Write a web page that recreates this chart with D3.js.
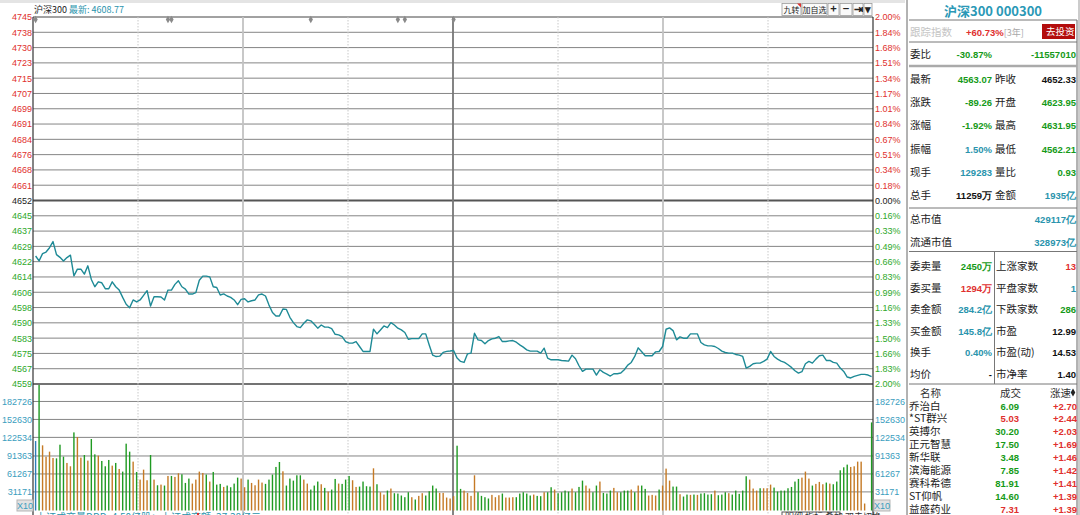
<!DOCTYPE html>
<html lang="zh">
<head>
<meta charset="UTF-8" />
<title>沪深300 分时</title>
<script src="https://d3js.org/d3.v7.min.js"></script>
<style>
  body { margin: 0; background: #fff; overflow: hidden; }
  svg { display: block; font-family: "Liberation Sans", Arial, sans-serif; }
  .cn { font-family: "Noto Sans CJK SC", sans-serif; }
  .num { font-family: "Liberation Sans", Arial, sans-serif; font-weight: bold; }
</style>
</head>
<body>
<svg id="chart" width="1080" height="515"></svg>
<script>
// ---- data ----
const prevClose = 4652.33;
const lastShown = "4608.77";

const priceLabels = ["4745","4738","4730","4723","4715","4707","4699","4691","4684","4676","4668","4661","4652",
  "4645","4637","4629","4622","4614","4606","4598","4590","4583","4575","4567","4559"];
const pctLabels = ["2.00%","1.84%","1.68%","1.51%","1.34%","1.17%","1.01%","0.84%","0.67%","0.51%","0.34%","0.18%","0.00%",
  "0.16%","0.33%","0.49%","0.66%","0.83%","0.99%","1.16%","1.33%","1.50%","1.66%","1.83%","2.00%"];
const volTicks = [31171, 61267, 91363, 122534, 152630, 182726];
const timeGrid = [0, 30, 60, 90, 120, 150, 180, 210, 240];
const markerMinutes = [0, 38, 39, 79, 104, 106, 120];

// one point per minute, 9:30 .. 11:30 then 13:01 .. 15:00
const prices = [
  4624.2, 4621.7, 4625.4, 4626.2, 4628.4, 4631.5, 4624.9, 4623.5, 4621.7, 4623.4,
  4624.6, 4614.1, 4617.5, 4617.5, 4615.0, 4619.2, 4612.3, 4608.6, 4611.1, 4610.6,
  4607.6, 4607.6, 4611.1, 4608.6, 4606.9, 4603.2, 4599.7, 4598.0, 4601.9, 4600.9,
  4601.9, 4604.2, 4606.6, 4598.8, 4603.5, 4603.5, 4603.4, 4601.9, 4606.9, 4606.9,
  4609.8, 4611.6, 4608.6, 4607.4, 4604.9, 4604.9, 4605.6, 4611.9, 4614.0, 4614.0,
  4613.6, 4608.6, 4608.2, 4604.4, 4605.0, 4603.9, 4603.2, 4601.9, 4599.5, 4602.2,
  4602.5, 4600.9, 4601.5, 4601.9, 4604.5, 4604.9, 4603.9, 4599.3, 4595.5, 4593.8,
  4593.8, 4597.3, 4597.1, 4593.1, 4590.4, 4588.4, 4587.9, 4590.1, 4591.8, 4591.3,
  4589.6, 4587.6, 4589.2, 4588.1, 4588.1, 4587.4, 4584.5, 4584.2, 4583.3, 4580.8,
  4580.0, 4580.0, 4580.8, 4578.3, 4575.8, 4575.8, 4575.8, 4587.1, 4584.7, 4586.7,
  4588.7, 4587.9, 4590.4, 4589.2, 4587.6, 4586.7, 4585.4, 4582.0, 4582.3, 4582.3,
  4582.3, 4584.7, 4584.7, 4579.1, 4573.9, 4573.2, 4573.4, 4575.3, 4575.8, 4576.0,
  4576.3,
  4572.41, 4570.72, 4570.22, 4574.59, 4574.93, 4585.03, 4581.66, 4581.32, 4579.64, 4581.32,
  4582.17, 4582.50, 4583.34, 4580.82, 4580.82, 4581.16, 4581.32, 4580.48, 4579.14, 4577.96,
  4576.61, 4575.94, 4575.94, 4575.94, 4574.93, 4577.45, 4572.41, 4571.56, 4571.56, 4571.56,
  4571.23, 4571.06, 4570.89, 4573.92, 4572.07, 4568.54, 4565.68, 4566.85, 4566.85, 4566.85,
  4563.83, 4566.52, 4565.17, 4564.33, 4563.32, 4564.50, 4564.50, 4564.83, 4566.52, 4568.87,
  4570.22, 4573.25, 4577.62, 4575.60, 4573.58, 4573.58, 4573.58, 4575.60, 4575.77, 4578.30,
  4587.05, 4587.72, 4586.37, 4581.66, 4583.18, 4582.50, 4582.50, 4584.69, 4584.69, 4584.69,
  4580.31, 4579.14, 4578.63, 4578.63, 4578.30, 4577.29, 4575.94, 4575.27, 4574.93, 4574.93,
  4574.26, 4573.92, 4573.25, 4567.36, 4568.20, 4569.55, 4569.88, 4569.88, 4570.72, 4571.90,
  4575.77, 4573.25, 4571.90, 4570.89, 4570.22, 4569.04, 4567.70, 4566.01, 4564.83, 4565.51,
  4569.55, 4570.72, 4569.88, 4571.90, 4573.58, 4573.92, 4571.23, 4571.23, 4570.22, 4569.88,
  4567.36, 4565.68, 4562.82, 4562.35, 4563.15, 4563.66, 4564.16, 4564.16, 4563.83, 4563.07
];

const volumes = [
  116400, 210500, 109200, 90200, 98600, 88000, 87400, 110300, 90200, 79700,
  74100, 130900, 123100, 88600, 93000, 83600, 119800, 94100, 91900, 83000,
  74100, 84700, 75200, 79700, 69600, 65200, 112000, 98600, 81900, 64600,
  51800, 68500, 50700, 93000, 51800, 42300, 43400, 41800, 57900, 57900,
  56300, 62400, 60700, 46200, 53500, 45100, 51800, 65200, 62900, 60200,
  48500, 64600, 43400, 44600, 39500, 41800, 39000, 45100, 55100, 53500,
  39000, 51800, 46200, 42300, 51800, 46800, 44600, 51800, 60200, 73000,
  81300, 65700, 41800, 53500, 50100, 59000, 59000, 51800, 45100, 35100,
  41800, 48500, 44000, 37900, 31700, 35100, 52900, 45100, 44600, 51800,
  57900, 50700, 39500, 40100, 48500, 40700, 40100, 70700, 44000, 30600,
  26700, 33400, 36800, 29000, 28400, 25100, 22300, 30600, 22300, 18400,
  24500, 29000, 25100, 32300, 41800, 36800, 29500, 29500, 21700, 20100,
  24000,
  108600, 36200, 33400, 29500, 24500, 59000, 30600, 24500, 22300, 20100,
  26200, 22300, 25600, 28400, 21700, 21700, 22300, 22300, 28400, 30600,
  28400, 25100, 26700, 24500, 24000, 30600, 30600, 39000, 35100, 29000,
  30600, 33400, 31700, 36800, 30600, 39500, 50100, 41800, 36800, 30600,
  41800, 48500, 29500, 28400, 33400, 37900, 30600, 30600, 33400, 33400,
  35100, 30600, 41800, 41800, 36200, 25100, 26200, 25100, 35100, 41800,
  70200, 50100, 40100, 40100, 27300, 23400, 26700, 26200, 26700, 26200,
  28400, 29000, 26700, 27300, 33400, 25600, 26700, 30600, 29000, 26700,
  33400, 27900, 33400, 57400, 51800, 36800, 33400, 37300, 37300, 37300,
  43400, 38400, 31700, 33400, 33400, 37300, 39500, 48500, 52900, 55100,
  65200, 53500, 41800, 44600, 47900, 44000, 46800, 45100, 44000, 48500,
  67400, 72400, 76900, 73000, 74100, 81900, 81900, 11700, 0, 147600
];

// a = auction, u = up tick, d = down tick, n = none
const volDir =
  "aduuuudddu" + "uduududdud" + "ddududddud" + "uuudududud" + "uuddduuuud" +
  "uddduddddu" + "uduuuudddd" + "duddddduud" + "ddududdudd" + "duuddddudu" +
  "ududddddud" + "uudddduuuuu" +
  "dduuuudddd" + "uuuduuuddd" + "ddudduddud" + "ddduddduud" + "duddduuddd" +
  "ududduuudu" + "uudduddudu" + "ddddudddud" + "dddduuuduu" + "uddddddddu" +
  "uuduuududd" + "ddduuuuund";

const trackRow = ["跟踪指数", "+60.73%", "[3年]", "去投资"];
const bidRatio = ["委比", "-30.87%", "-11557010"];
const quoteRows = [
  ["最新", "4563.07", "昨收", "4652.33"],
  ["涨跌", "-89.26", "开盘", "4623.95"],
  ["涨幅", "-1.92%", "最高", "4631.95"],
  ["振幅", "1.50%", "最低", "4562.21"],
  ["现手", "129283", "量比", "0.93"],
  ["总手", "11259万", "金额", "1935亿"]
];
const capRows = [["总市值", "429117亿"], ["流通市值", "328973亿"]];
const bookRows = [
  ["委卖量", "2450万", "上涨家数", "13"],
  ["委买量", "1294万", "平盘家数", "1"],
  ["卖金额", "284.2亿", "下跌家数", "286"],
  ["买金额", "145.8亿", "市盈", "12.99"],
  ["换手", "0.40%", "市盈(动)", "14.53"],
  ["均价", "-", "市净率", "1.40"]
];
const rankNames = ["乔治白", "*ST群兴", "英搏尔", "正元智慧", "新华联", "滨海能源", "赛科希德", "ST仰帆", "益盛药业"];
const rankPrices = ["6.09", "5.03", "30.20", "17.50", "3.48", "7.85", "81.91", "14.60", "7.31"];
const rankSpeeds = ["+2.70", "+2.44", "+2.03", "+1.69", "+1.46", "+1.42", "+1.41", "+1.39", "+1.39"];
const rankDay = [-1, 1, -1, -1, -1, -1, -1, -1, 1]; // price vs. previous close

// ---- layout ----
const RED = "#e0302e", GREEN = "#2ea82a", TEAL = "#2a94ad", PGREEN = "#159a18";
const svg = d3.select("#chart");
const L = 33, R = 873, TOP = 17, MID = 384, VB = 510.5;

const levels = d3.range(25).map(k => prevClose * (1 + 0.02 * (12 - k) / 12));
const xG = d3.scaleLinear().domain([0, 240]).range([L, R]);
const xB = d3.scaleLinear().domain([0, 240]).range([35.6, 871.6]);
const yP = d3.scaleLinear().domain([prevClose * 0.98, prevClose * 1.02]).range([MID, TOP]);
const yV = d3.scaleLinear().domain([0, 212000]).range([VB, MID]);

svg.append("rect").attr("width", 1080).attr("height", 515).attr("fill", "#fff");

// top toolbar remnant
svg.append("rect").attr("x", 0).attr("y", 0).attr("width", 905).attr("height", 3).attr("fill", "#e4e4e4");

// horizontal grid (price)
svg.append("g").selectAll("line").data(levels).join("line")
  .attr("x1", L).attr("x2", R)
  .attr("y1", d => yP(d)).attr("y2", d => yP(d))
  .attr("stroke", (d, k) => k === 12 ? "#555" : (k === 0 || k === 24 ? "#444" : "#858585"))
  .attr("stroke-width", (d, k) => k === 12 ? 2.2 : (k === 24 ? 1.6 : 1));

// horizontal grid (volume)
svg.append("g").selectAll("line").data(volTicks).join("line")
  .attr("x1", L).attr("x2", R)
  .attr("y1", d => yV(d)).attr("y2", d => yV(d))
  .attr("stroke", "#858585").attr("stroke-width", 1);

// vertical time grid
svg.append("g").selectAll("line").data(timeGrid).join("line")
  .attr("x1", d => xG(d)).attr("x2", d => xG(d))
  .attr("y1", TOP).attr("y2", 515)
  .attr("stroke", (d, i) => (i === 0 || i === 8) ? "#333" : i === 4 ? "#777" : i % 2 === 0 ? "#c2c2c2" : "#c8c8c8")
  .attr("stroke-width", (d, i) => (i === 0 || i === 8) ? 1.2 : i === 4 ? 1.8 : i % 2 === 0 ? 1.8 : 1)
  .attr("stroke-dasharray", (d, i) => i % 2 === 1 ? "1.5,1.5" : null);

// volume bars
const barColor = { a: "#2f7db8", u: "#c57a25", d: "#1f9a22", n: "none" };
svg.append("g").selectAll("rect").data(volumes).join("rect")
  .attr("x", (d, i) => xB(i) - 0.7)
  .attr("width", 1.4)
  .attr("y", d => yV(d))
  .attr("height", d => VB - yV(d))
  .attr("fill", (d, i) => barColor[volDir[i]]);

// price line
svg.append("path")
  .datum(prices)
  .attr("fill", "none")
  .attr("stroke", "#1e8a96")
  .attr("stroke-width", 1.4)
  .attr("stroke-linejoin", "round")
  .attr("d", d3.line().x((d, i) => xB(i)).y(d => yP(d)));

// info markers
svg.append("g").selectAll("path").data(markerMinutes).join("path")
  .attr("transform", d => `translate(${xB(d)},19.5)`)
  .attr("d", d3.symbol(d3.symbolDiamond, 16))
  .attr("fill", "#8a8a8a");

// axes
const levelColor = k => k < 12 ? RED : k === 12 ? "#222" : GREEN;
const leftAxis = svg.append("g").attr("transform", `translate(${L},0)`)
  .call(d3.axisLeft(yP).tickValues(levels).tickSize(0).tickPadding(1)
    .tickFormat((d, k) => priceLabels[k]));
leftAxis.select(".domain").remove();
leftAxis.selectAll("text").attr("font-size", 9).attr("font-family", "Liberation Sans, Arial")
  .attr("fill", (d, k) => levelColor(k));

const rightAxis = svg.append("g").attr("transform", `translate(${R},0)`)
  .call(d3.axisRight(yP).tickValues(levels).tickSize(0).tickPadding(2)
    .tickFormat((d, k) => pctLabels[k]));
rightAxis.select(".domain").remove();
rightAxis.selectAll("text").attr("font-size", 9).attr("font-family", "Liberation Sans, Arial")
  .attr("fill", (d, k) => levelColor(k));

const vLeft = svg.append("g").attr("transform", `translate(${L},0)`)
  .call(d3.axisLeft(yV).tickValues(volTicks).tickSize(0).tickPadding(1).tickFormat(d3.format("d")));
vLeft.select(".domain").remove();
vLeft.selectAll("text").attr("font-size", 9).attr("fill", "#3a9dbe");

const vRight = svg.append("g").attr("transform", `translate(${R},0)`)
  .call(d3.axisRight(yV).tickValues(volTicks).tickSize(0).tickPadding(2).tickFormat(d3.format("d")));
vRight.select(".domain").remove();
vRight.selectAll("text").attr("font-size", 9).attr("fill", "#3a9dbe");

// x10 boxes
[[17, 500], [874, 500]].forEach(([bx, by]) => {
  svg.append("rect").attr("x", bx).attr("y", by).attr("width", 16).attr("height", 11)
    .attr("fill", "#e2e2e2").attr("stroke", "#b5b5b5");
  svg.append("text").attr("x", bx + 8).attr("y", by + 9).attr("text-anchor", "middle")
    .attr("font-size", 9).attr("fill", "#3a9dbe").text("X10");
});

// bottom status line, cut by the window edge as in the screenshot
svg.append("text").attr("class", "cn").attr("x", 36).attr("y", 521).attr("font-size", 10)
  .attr("fill", "#2a94ad").text("上证成交量DDD: 4.50亿股；上证成交额: 37.38亿元");
svg.append("circle").attr("cx", 198).attr("cy", 514).attr("r", 1.2).attr("fill", RED);
svg.append("rect").attr("x", 782).attr("y", 512).attr("width", 58).attr("height", 10)
  .attr("fill", "#fff").attr("stroke", "#555");
svg.append("text").attr("class", "cn").attr("x", 785).attr("y", 520).attr("font-size", 9)
  .attr("fill", "#333").text("明细 指标 叠加 双击切换");

// header
const head = svg.append("text").attr("class", "cn").attr("x", 34).attr("y", 12.5).attr("font-size", 9);
head.append("tspan").attr("fill", "#222").text("沪深300 ");
head.append("tspan").attr("fill", TEAL).text("最新: " + lastShown);

// toolbar buttons
const buttons = [["九转", 782, 19], ["加自选", 802, 25], ["+", 828, 11], ["−", 840, 12], ["⇥", 853, 10], ["▾", 864, 8]];
buttons.forEach(([t, bx, bw]) => {
  svg.append("rect").attr("x", bx).attr("y", 3.5).attr("width", bw).attr("height", 12)
    .attr("fill", "#fafafa").attr("stroke", "#9a9a9a").attr("stroke-width", 0.8);
  svg.append("text").attr("class", "cn").attr("x", bx + bw / 2).attr("y", 13)
    .attr("text-anchor", "middle").attr("font-size", t.length > 1 ? 8 : 11)
    .attr("font-weight", t.length > 1 ? "normal" : "bold").attr("fill", "#222").text(t);
});
svg.append("path").attr("d", "M797,3.5 L801,3.5 L801,7.5 Z").attr("fill", RED);

// ---- right panel ----
const P0 = 909, P1 = 1077, PM = 994.5;
const panel = svg.append("g");
const hline = (y, w = 1, c = "#777") => panel.append("line").attr("x1", P0).attr("x2", P1)
  .attr("y1", y).attr("y2", y).attr("stroke", c).attr("stroke-width", w);
panel.append("line").attr("x1", 907).attr("x2", 907).attr("y1", 0).attr("y2", 515).attr("stroke", "#666");
panel.append("line").attr("x1", P1).attr("x2", P1).attr("y1", 20).attr("y2", 515).attr("stroke", "#666");
panel.append("line").attr("x1", 1079).attr("x2", 1079).attr("y1", 0).attr("y2", 515).attr("stroke", "#999");
hline(20); hline(42); hline(66, 2.5, "#aaa"); hline(208); hline(251.5); hline(384);
panel.append("line").attr("x1", PM).attr("x2", PM).attr("y1", 251.5).attr("y2", 384).attr("stroke", "#777");

panel.append("text").attr("class", "cn").attr("x", 993).attr("y", 16).attr("text-anchor", "middle")
  .attr("font-size", 13).attr("font-weight", "bold").attr("fill", "#2a98b6").text("沪深300 000300");

const label = (x, y, t, c = "#222", size = 10.5) => panel.append("text").attr("class", "cn")
  .attr("x", x).attr("y", y).attr("font-size", size).attr("fill", c).text(t);
const value = (x, y, t, c, anchor = "end") => panel.append("text").attr("class", "num")
  .attr("x", x).attr("y", y).attr("text-anchor", anchor).attr("font-size", 9.5).attr("fill", c).text(t);

label(910, 35.5, trackRow[0], "#c4c4c4");
const track = panel.append("text").attr("x", 966).attr("y", 35.5);
track.append("tspan").attr("class", "num").attr("font-size", 9.5).attr("fill", RED).text(trackRow[1]);
track.append("tspan").attr("class", "cn").attr("font-size", 9).attr("fill", "#a8a8a8").text(trackRow[2]);
panel.append("rect").attr("x", 1042).attr("y", 24).attr("width", 33).attr("height", 15).attr("fill", "#b30d0d");
label(1046, 35, trackRow[3], "#fff", 9.5);

label(910, 58, bidRatio[0]);
value(992, 58, bidRatio[1], PGREEN);
value(1076, 58, bidRatio[2], PGREEN);

const sideColor = t => +t.replace(/[%万亿]/g, "") < 0 ? PGREEN : RED;
const priceColor = t => +t < prevClose ? PGREEN : +t > prevClose ? RED : "#111";
const quoteTone = {
  "最新": priceColor, "昨收": priceColor, "开盘": priceColor, "最高": priceColor, "最低": priceColor,
  "涨跌": sideColor, "涨幅": sideColor, "振幅": () => TEAL, "现手": () => TEAL,
  "量比": t => +t < 1 ? PGREEN : RED, "总手": () => "#111", "金额": () => TEAL
};
quoteRows.forEach((r, k) => {
  const y = 83 + k * 23.2;
  label(910, y, r[0]);
  value(992, y, r[1], quoteTone[r[0]](r[1]));
  label(995, y, r[2]);
  value(1076, y, r[3], quoteTone[r[2]](r[3]));
});

capRows.forEach((r, k) => {
  const y = 223 + k * 22.5;
  label(910, y, r[0]);
  value(1076, y, r[1], TEAL);
});

const bookTone = {
  "委卖量": PGREEN, "委买量": RED, "卖金额": TEAL, "买金额": TEAL, "换手": TEAL, "均价": "#111",
  "上涨家数": RED, "平盘家数": TEAL, "下跌家数": PGREEN, "市盈": "#111", "市盈(动)": "#111", "市净率": "#111"
};
bookRows.forEach((r, k) => {
  const y = 270 + k * 21.6;
  label(910, y, r[0]);
  value(992, y, r[1], bookTone[r[0]]);
  label(996, y, r[2]);
  value(1076, y, r[3], bookTone[r[2]]);
});

label(920, 396.5, "名称", "#333");
label(1000, 396.5, "成交", "#333");
label(1050, 396.5, "涨速", "#333");
panel.append("path").attr("transform", "translate(1073,392.5)")
  .attr("d", d3.symbol(d3.symbolDiamond, 18)).attr("fill", "#222");

rankNames.forEach((n, k) => {
  const y = 409.5 + k * 12.9;
  label(909, y, n, "#222", 10.5);
  value(1019, y, rankPrices[k], rankDay[k] > 0 ? RED : PGREEN);
  value(1077, y, rankSpeeds[k], RED);
});
</script>
</body>
</html>
